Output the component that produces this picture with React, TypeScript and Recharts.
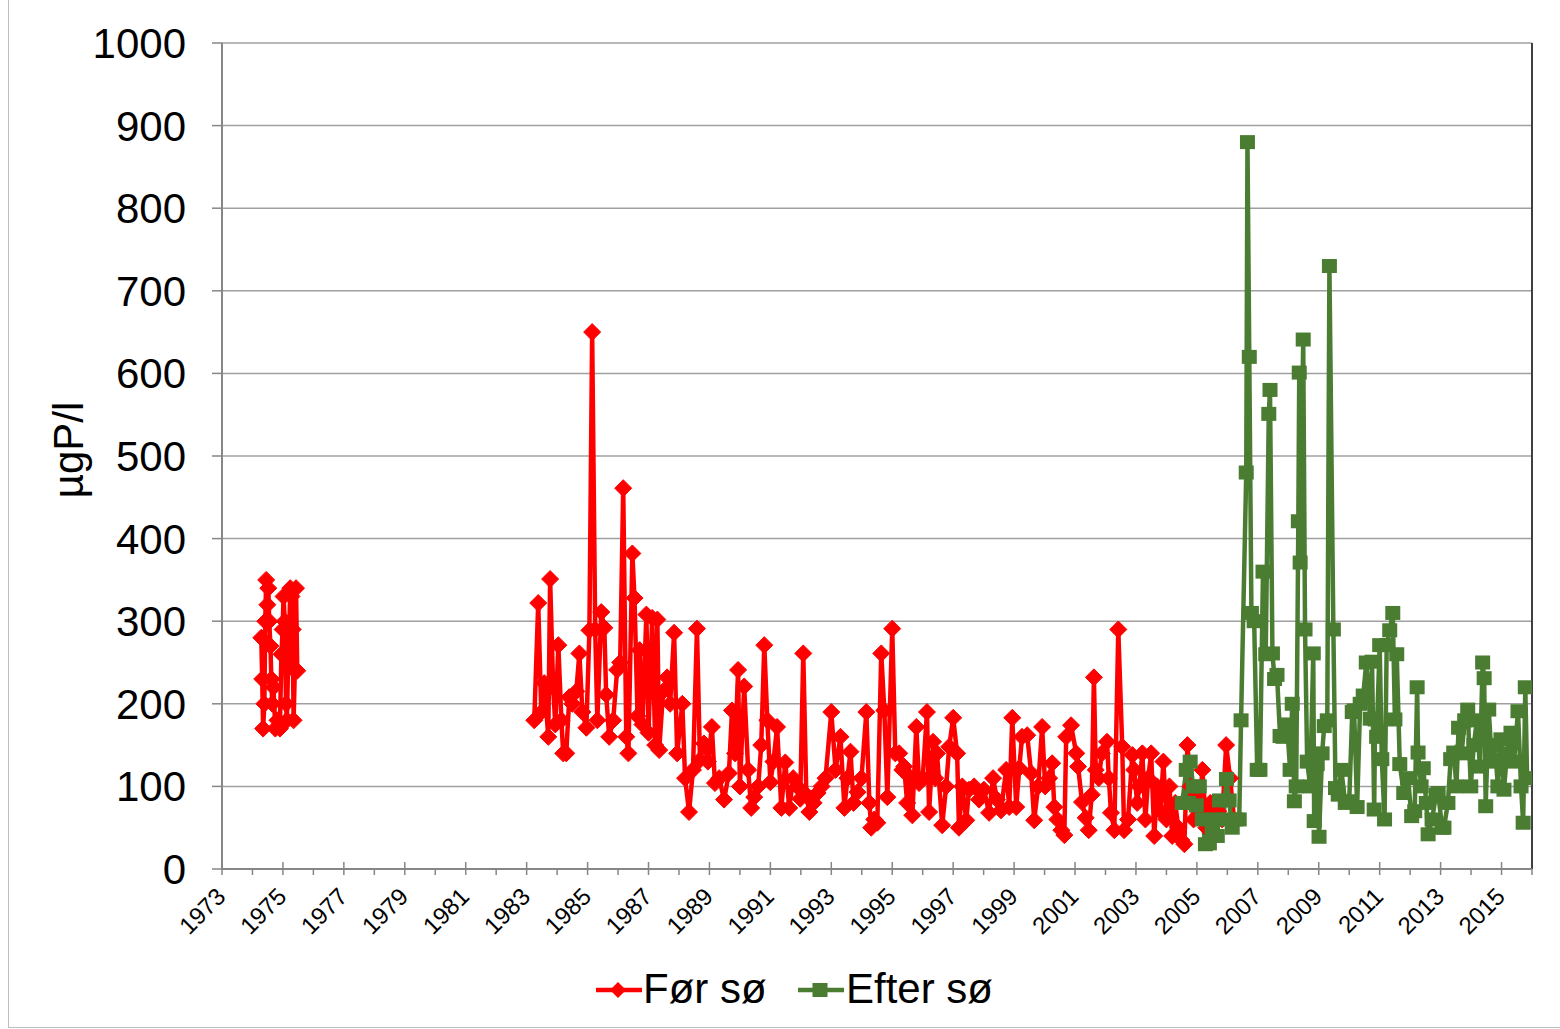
import React from "react";
import { LineChart, Line, XAxis, YAxis, CartesianGrid, ReferenceLine } from "recharts";

const FONT = "'Liberation Sans', Arial, Helvetica, sans-serif";
const RED = "#FF0000";
const GREEN = "#4A7D31";

const yearTicks = [
  1973, 1974, 1975, 1976, 1977, 1978, 1979, 1980, 1981, 1982, 1983, 1984, 1985, 1986, 1987, 1988,
  1989, 1990, 1991, 1992, 1993, 1994, 1995, 1996, 1997, 1998, 1999, 2000, 2001, 2002, 2003, 2004,
  2005, 2006, 2007, 2008, 2009, 2010, 2011, 2012, 2013, 2014, 2015, 2016,
];
const valueTicks = [0, 100, 200, 300, 400, 500, 600, 700, 800, 900, 1000];

// "Før sø" samples (decimal year), null = gap in the series
const forYears = [
  1974.29, 1974.32, 1974.35, 1974.39, 1974.42, 1974.45, 1974.49, 1974.52, 1974.55, 1974.59, 1974.62, 1974.65, 1974.69,
  1974.75, 1974.82, 1974.9,
  1974.95, 1974.99, 1975.02, 1975.06, 1975.1, 1975.13, 1975.17, 1975.21, 1975.24, 1975.28, 1975.32, 1975.35, 1975.39, 1975.43, 1975.47,
  1979,
  1983.25, 1983.38, 1983.48, 1983.58, 1983.71, 1983.77, 1983.87, 1983.94, 1984.04, 1984.14, 1984.2, 1984.3, 1984.4, 1984.5,
  1984.63, 1984.73, 1984.83, 1984.96, 1985.06, 1985.15, 1985.25, 1985.32, 1985.45, 1985.55, 1985.61, 1985.71, 1985.84, 1985.97,
  1986.07, 1986.17, 1986.27, 1986.34, 1986.47, 1986.54, 1986.64, 1986.71, 1986.8, 1986.93, 1987.0, 1987.12, 1987.22, 1987.29,
  1987.35, 1987.48, 1987.61, 1987.71, 1987.84, 1987.94, 1988.11, 1988.2, 1988.33, 1988.46, 1988.59, 1988.69, 1988.82, 1988.95,
  1989.08, 1989.18, 1989.32, 1989.48, 1989.64, 1989.74, 1989.84, 1989.94, 1990.0, 1990.14, 1990.27, 1990.37, 1990.47, 1990.6,
  1990.7, 1990.8, 1990.9, 1991.0, 1991.1, 1991.22, 1991.36, 1991.49, 1991.62, 1991.75, 1991.88, 1991.98, 1992.08, 1992.18,
  1992.28, 1992.42, 1992.55, 1992.68, 1992.81, 1993.0, 1993.14, 1993.3, 1993.43, 1993.53, 1993.63, 1993.73, 1993.86, 1993.99,
  1994.15, 1994.25, 1994.31, 1994.41, 1994.51, 1994.64, 1994.74, 1994.84, 1995.0, 1995.1, 1995.23, 1995.33, 1995.39, 1995.49,
  1995.56, 1995.66, 1995.79, 1995.88, 1996.0, 1996.14, 1996.21, 1996.34, 1996.41, 1996.47, 1996.64, 1996.77, 1996.87, 1997.0,
  1997.13, 1997.19, 1997.3, 1997.43, 1997.52, 1997.69, 1997.85, 1998.01, 1998.18, 1998.31, 1998.44, 1998.57, 1998.74, 1998.84,
  1998.94, 1999.07, 1999.17, 1999.26, 1999.43, 1999.56, 1999.66, 1999.79, 1999.92, 2000.02, 2000.15, 2000.25, 2000.32, 2000.42,
  2000.55, 2000.65, 2000.71, 2000.87, 2001.04, 2001.1, 2001.23, 2001.35, 2001.45, 2001.55, 2001.62, 2001.68, 2001.78, 2001.88,
  2002.05, 2002.11, 2002.18, 2002.29, 2002.42, 2002.55, 2002.61, 2002.74, 2002.88, 2002.94, 2003.04, 2003.11, 2003.21, 2003.31,
  2003.4, 2003.5, 2003.6, 2003.7, 2003.8, 2003.9, 2004.0, 2004.1, 2004.19, 2004.29, 2004.39, 2004.49, 2004.59, 2004.69,
  2004.79, 2004.89, 2004.98, 2005.08, 2005.18, 2005.31, 2005.44, 2005.57, 2005.7, 2005.83, 2005.96, 2006.09, 2006.22,
];
const forValues = [
  280, 230, 170, 200, 300, 350, 320, 340, 300, 270, 230, 200, 220,
  170, 180, 170,
  260, 290, 330, 300, 200, 180, 250, 290, 340, 330, 290, 180, 240, 340, 240,
  null,
  180, 322, 190, 225, 160, 351, 220, 175, 271, 180, 140, 140, 208, 200,
  215, 261, 190, 171, 289, 650, 290, 180, 311, 292, 211, 160, 180, 241,
  250, 461, 160, 140, 382, 328, 185, 265, 175, 308, 165, 304, 150, 302,
  144, 215, 232, 200, 286, 140, 200, 110, 69, 120, 291, 132, 152, 130,
  172, 104, 110, 84, 116, 192, 140, 241, 100, 221, 120, 74, 87, 100,
  150, 271, 180, 105, 130, 172, 74, 129, 74, 110, 100, 85, 261, 90,
  69, 80, 92, 100, 110, 190, 120, 160, 74, 110, 142, 80, 93, 110,
  190, 80, 50, 60, 56, 261, 192, 87, 291, 140, 140, 120, 124, 80,
  112, 65, 172, 104, 110, 190, 69, 154, 110, 140, 53, 100, 148, 183,
  140, 50, 100, 59, 96, 100, 84, 96, 68, 110, 84, 71, 120, 75,
  183, 75, 122, 160, 162, 116, 59, 100, 172, 100, 110, 128, 75, 60,
  47, 41, 160, 174, 140, 124, 81, 62, 47, 90, 232, 120, 110, 140,
  154, 110, 68, 47, 290, 148, 47, 60, 138, 120, 80, 100, 140, 60,
  110, 140, 40, 100, 70, 130, 60, 100, 40, 80, 50, 35, 30, 150,
  100, 60, 90, 70, 120, 50, 80, 40, 70, 60, 150, 110, 60,
];

// "Efter sø" samples
const efterYears = [
  2004.52, 2004.65, 2004.72, 2004.78, 2004.88, 2004.98, 2005.08, 2005.18, 2005.28, 2005.41, 2005.5, 2005.57, 2005.67, 2005.74,
  2005.87, 2005.97, 2006.06, 2006.16, 2006.26, 2006.39, 2006.45, 2006.62, 2006.66, 2006.72, 2006.79, 2006.88, 2006.98, 2007.07,
  2007.17, 2007.26, 2007.36, 2007.4, 2007.48, 2007.55, 2007.63, 2007.73, 2007.83, 2007.96, 2008.06, 2008.13, 2008.2, 2008.26,
  2008.33, 2008.36, 2008.39, 2008.49, 2008.55, 2008.62, 2008.72, 2008.82, 2008.85, 2008.95, 2009.01, 2009.11, 2009.18, 2009.28,
  2009.35, 2009.48, 2009.55, 2009.64, 2009.74, 2009.87, 2010.0, 2010.1, 2010.16, 2010.26, 2010.36, 2010.46, 2010.56, 2010.69,
  2010.75, 2010.82, 2010.85, 2010.9, 2011.0, 2011.07, 2011.16, 2011.23, 2011.33, 2011.43, 2011.5, 2011.56, 2011.66, 2011.79,
  2011.92, 2012.05, 2012.15, 2012.23, 2012.26, 2012.36, 2012.43, 2012.53, 2012.59, 2012.72, 2012.85, 2012.92, 2013.05, 2013.11,
  2013.24, 2013.33, 2013.43, 2013.52, 2013.59, 2013.69, 2013.79, 2013.89, 2013.99, 2014.09, 2014.19, 2014.29, 2014.38, 2014.43,
  2014.48, 2014.58, 2014.68, 2014.78, 2014.88, 2014.98, 2015.08, 2015.18, 2015.31, 2015.41, 2015.54, 2015.64, 2015.71, 2015.78,
  2015.84,
];
const efterValues = [
  80, 120, 80, 130, 100, 77, 100, 60, 30, 31, 45, 60, 40, 83,
  60, 109, 83, 50, 60, 60, 180, 480, 880, 620, 310, 300, 120, 120,
  360, 260, 551, 580, 261, 230, 235, 161, 160, 175, 120, 200, 82, 100,
  421, 601, 371, 641, 290, 130, 100, 261, 58, 127, 39, 140, 173, 180,
  730, 290, 98, 90, 120, 80, 82, 190, 192, 75, 200, 210, 250, 182,
  251, 72, 181, 160, 271, 133, 60, 271, 289, 310, 181, 260, 127, 92,
  110, 64, 70, 220, 141, 100, 122, 80, 42, 60, 90, 92, 50, 50,
  80, 133, 141, 100, 171, 140, 180, 193, 100, 150, 180, 124, 250, 231,
  76, 193, 130, 150, 100, 157, 96, 140, 165, 130, 191, 100, 56, 220,
  110,
];

const forData = forYears.map((year, i) => ({ year, value: forValues[i] }));
const efterData = efterYears.map((year, i) => ({ year, value: efterValues[i] }));

function DiamondDot(props: any) {
  const { cx, cy, value, index } = props;
  if (value == null || cy == null) return <g key={`d${index}`} />;
  const s = 8.5;
  return (
    <path
      key={`d${index}`}
      d={`M${cx},${cy - s}L${cx + s},${cy}L${cx},${cy + s}L${cx - s},${cy}Z`}
      fill={RED}
      stroke={RED}
    />
  );
}

function SquareDot(props: any) {
  const { cx, cy, value, index } = props;
  if (value == null || cy == null) return <g key={`s${index}`} />;
  return <rect key={`s${index}`} x={cx - 7.5} y={cy - 7} width={15} height={14} fill={GREEN} />;
}

function XTick(props: any) {
  const { x, y, payload } = props;
  const v = payload.value;
  const major = (v - 1973) % 2 === 0 && v < 2016;
  if (!major) {
    return <line x1={x} x2={x} y1={y} y2={y + 6} stroke="#868686" strokeWidth={1.5} />;
  }
  const tx = x + 5;
  const ty = y + 29;
  return (
    <g>
      <line x1={x} x2={x} y1={y - 7} y2={y + 6} stroke="#868686" strokeWidth={1.5} />
      <text
        x={tx}
        y={ty}
        transform={`rotate(-45 ${tx} ${ty})`}
        textAnchor="end"
        fontSize={24}
        fontFamily={FONT}
        fill="#000"
      >
        {v}
      </text>
    </g>
  );
}

export default function App() {
  return (
    <div style={{ position: "absolute", left: 0, top: 0, width: 1560, height: 1029, background: "#fff", overflow: "hidden" }}>
      <div style={{ position: "absolute", left: 8, top: -2, width: 1600, height: 1028, border: "1px solid #BFBFBF" }} />
      <LineChart width={1560} height={1029} margin={{ top: 43, right: 28, bottom: 0, left: 0 }}>
        <CartesianGrid vertical={false} stroke="#A0A0A0" strokeWidth={1.5} />
        <XAxis
          type="number"
          dataKey="year"
          domain={[1973, 2016]}
          ticks={yearTicks}
          interval={0}
          allowDataOverflow
          height={160}
          tickLine={false}
          tickSize={0}
          tickMargin={0}
          axisLine={{ stroke: "#868686", strokeWidth: 2 }}
          tick={XTick}
        />
        <YAxis
          type="number"
          domain={[0, 1000]}
          ticks={valueTicks}
          interval={0}
          width={222}
          tickSize={10}
          tickMargin={26}
          tickLine={{ stroke: "#868686", strokeWidth: 1.5 }}
          axisLine={{ stroke: "#868686", strokeWidth: 2 }}
          tick={{ fontSize: 42, fill: "#000", fontFamily: FONT }}
        />
        <ReferenceLine x={2016} stroke="#404040" strokeWidth={2} />
        <Line
          data={forData}
          dataKey="value"
          type="linear"
          stroke={RED}
          strokeWidth={4.5}
          dot={DiamondDot}
          activeDot={false}
          connectNulls={false}
          isAnimationActive={false}
        />
        <Line
          data={efterData}
          dataKey="value"
          type="linear"
          stroke={GREEN}
          strokeWidth={4.5}
          dot={SquareDot}
          activeDot={false}
          isAnimationActive={false}
        />
      </LineChart>
      <div
        style={{
          position: "absolute",
          left: 68.5 - 100,
          top: 450 - 21,
          width: 200,
          height: 42,
          lineHeight: "42px",
          fontSize: 42,
          fontFamily: FONT,
          textAlign: "center",
          transform: "rotate(-90deg)",
          color: "#000",
        }}
      >
        µgP/l
      </div>
      <svg style={{ position: "absolute", left: 594, top: 975 }} width={50} height={30}>
        <line x1={2} x2={48} y1={15} y2={15} stroke={RED} strokeWidth={4.5} />
        <path d="M24,7L32,15L24,23L16,15Z" fill={RED} />
      </svg>
      <div style={{ position: "absolute", left: 643, top: 968, fontSize: 42, lineHeight: "42px", fontFamily: FONT, color: "#000", whiteSpace: "nowrap" }}>
        Før sø
      </div>
      <svg style={{ position: "absolute", left: 796, top: 975 }} width={50} height={30}>
        <line x1={2} x2={48} y1={15} y2={15} stroke={GREEN} strokeWidth={4.5} />
        <rect x={16.5} y={8} width={15} height={14} fill={GREEN} />
      </svg>
      <div style={{ position: "absolute", left: 846, top: 968, fontSize: 42, lineHeight: "42px", fontFamily: FONT, color: "#000", whiteSpace: "nowrap" }}>
        Efter sø
      </div>
    </div>
  );
}
